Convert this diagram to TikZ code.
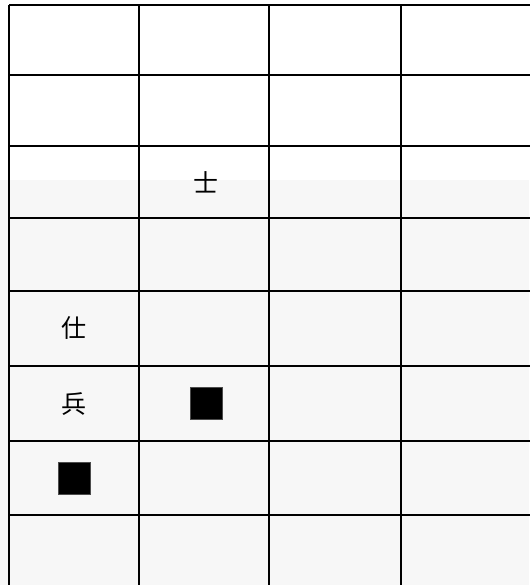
\documentclass[tikz,border=0pt]{standalone}
\usepackage{fontspec}
\newfontfamily\cjk{Noto Sans CJK TC}
\usetikzlibrary{positioning}

\begin{document}
\begin{tikzpicture}[
            x=1pt, y=-1pt,
            gridline/.style={line width=2pt, black},
            piece/.style={font=\cjk\fontsize{25}{25}\selectfont, inner sep=0pt},
            block/.style={rectangle, fill=black, draw=gray!60!black, line width=0.6pt, minimum size=32pt, inner sep=0pt}
        ]
        \useasboundingbox (0,0) rectangle (529,585);

        % Sfondo chiaro (filigrana)
        \fill[gray!6] (0,180) rectangle (529,585);

        % Griglia
        \foreach \x in {9,139,269,401,531}
            \draw[gridline] (\x,5) -- (\x,590);
        \foreach \y in {5,75,146,218,291,366,441,515,590}
            \draw[gridline] (9,\y) -- (531,\y);

        % Nodi
        \node (shi) [piece] at (206,182) {士};
        \node (shi2) [piece] at (74,328) {仕};
        \node (bing) [piece] at (74,404) {兵};
        \node (blockA) [block] at (206,403) {};
        \node (blockB) [block] at (74,478) {};

    \end{tikzpicture}
\end{document}
